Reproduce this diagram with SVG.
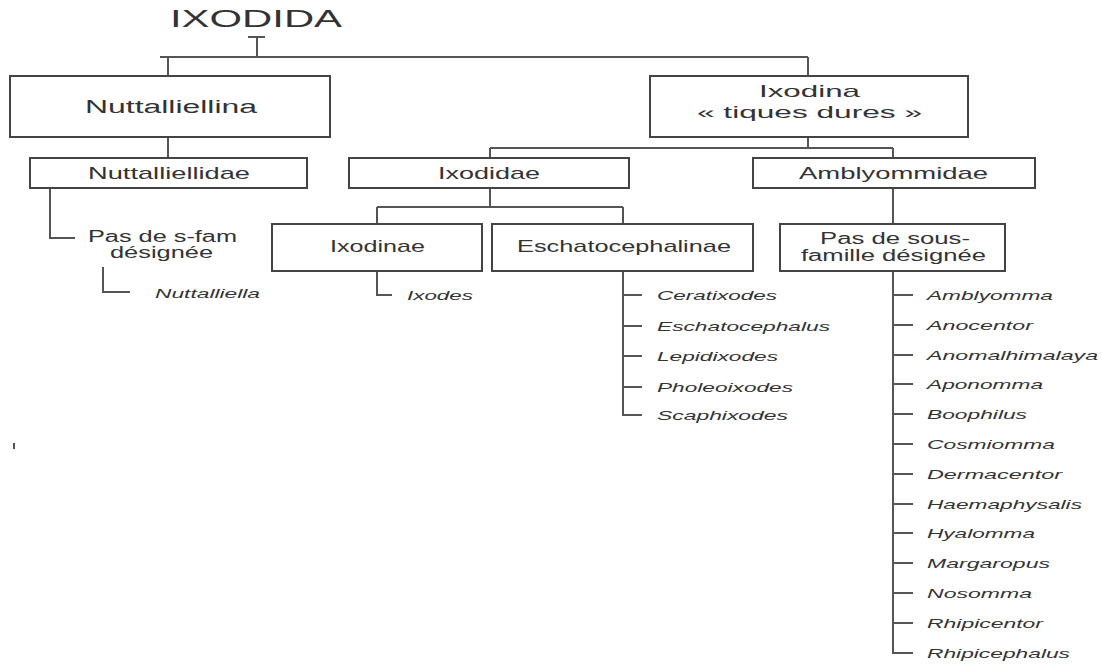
<svg xmlns="http://www.w3.org/2000/svg" width="1102" height="664" viewBox="0 0 1102 664">
<style>
.bg{fill:#ffffff}
.box{fill:#ffffff;stroke:#444;stroke-width:2}
.ln{fill:none;stroke:#555;stroke-width:2}
.t{font-family:"Liberation Sans",Arial,sans-serif;fill:#333;text-anchor:start}
.lab{font-size:17px}
.big{font-size:18px}
.title{font-size:24px}
.sp{font-size:13px;font-style:italic}
.pas{font-size:16px}
</style>
<rect class="bg" x="0" y="0" width="1102" height="664"/>
<g id="connectors">
<path class="ln" d="M248,37 H265 M257,37 V57 M160,57 H808 M168,57 V76 M808,57 V76"/>
<path class="ln" d="M168,137 V158"/>
<path class="ln" d="M50,188 V238 H75"/>
<path class="ln" d="M103,267 V292 H130"/>
<path class="ln" d="M808,137 V148 M490,148 H893 M490,148 V158 M893,148 V158"/>
<path class="ln" d="M490,188 V207 M377,207 H623 M377,207 V224 M623,207 V224"/>
<path class="ln" d="M377,271 V295 H392"/>
<path class="ln" d="M623,271 V415 H642 M623,295 H642 M623,326 H642 M623,356 H642 M623,387 H642"/>
<path class="ln" d="M893,188 V224"/>
<path class="ln" d="M893,271 V653 H913 M893,295 H913 M893,325 H913 M893,355 H913 M893,384 H913 M893,414 H913 M893,444 H913 M893,474 H913 M893,504 H913 M893,533 H913 M893,563 H913 M893,593 H913 M893,623 H913"/>
<path class="ln" d="M14,443 V449" stroke-width="1.5"/>
</g>
<g id="ixodida">
<text class="t title" x="170" y="27" textLength="172" lengthAdjust="spacingAndGlyphs">IXODIDA</text>
</g>
<g id="nuttalliellina">
<rect class="box" x="10" y="76" width="320" height="61"/>
<text class="t big" x="85" y="113" textLength="172" lengthAdjust="spacingAndGlyphs">Nuttalliellina</text>
</g>
<g id="ixodina">
<rect class="box" x="650" y="76" width="318" height="61"/>
<text class="t lab" x="759" y="97" textLength="101" lengthAdjust="spacingAndGlyphs">Ixodina</text>
<text class="t lab" x="697" y="118" textLength="225" lengthAdjust="spacingAndGlyphs">« tiques dures »</text>
</g>
<g id="nuttalliellidae">
<rect class="box" x="30" y="158" width="277" height="30"/>
<text class="t lab" x="88" y="179" textLength="162" lengthAdjust="spacingAndGlyphs">Nuttalliellidae</text>
</g>
<g id="pas-s-fam">
<text class="t pas" x="88" y="242" textLength="149" lengthAdjust="spacingAndGlyphs">Pas de s-fam</text>
<text class="t pas" x="110" y="258" textLength="103" lengthAdjust="spacingAndGlyphs">désignée</text>
</g>
<g id="nuttalliella">
<text class="t sp" x="155" y="298" textLength="105" lengthAdjust="spacingAndGlyphs">Nuttalliella</text>
</g>
<g id="ixodidae">
<rect class="box" x="349" y="158" width="280" height="30"/>
<text class="t lab" x="438" y="179" textLength="102" lengthAdjust="spacingAndGlyphs">Ixodidae</text>
</g>
<g id="amblyommidae">
<rect class="box" x="753" y="158" width="282" height="30"/>
<text class="t lab" x="799" y="179" textLength="189" lengthAdjust="spacingAndGlyphs">Amblyommidae</text>
</g>
<g id="ixodinae">
<rect class="box" x="272" y="224" width="210" height="47"/>
<text class="t lab" x="330" y="252" textLength="95" lengthAdjust="spacingAndGlyphs">Ixodinae</text>
</g>
<g id="eschatocephalinae">
<rect class="box" x="492" y="224" width="261" height="47"/>
<text class="t lab" x="517" y="252" textLength="214" lengthAdjust="spacingAndGlyphs">Eschatocephalinae</text>
</g>
<g id="pas-sous-famille">
<rect class="box" x="780" y="224" width="225" height="47"/>
<text class="t pas" x="820" y="244" textLength="150" lengthAdjust="spacingAndGlyphs">Pas de sous-</text>
<text class="t pas" x="801" y="261" textLength="185" lengthAdjust="spacingAndGlyphs">famille désignée</text>
</g>
<g id="ixodes">
<text class="t sp" x="407" y="300" textLength="66" lengthAdjust="spacingAndGlyphs">Ixodes</text>
</g>
<g id="eschato-genera">
<text class="t sp" x="657" y="300" textLength="120" lengthAdjust="spacingAndGlyphs">Ceratixodes</text>
<text class="t sp" x="657" y="331" textLength="173" lengthAdjust="spacingAndGlyphs">Eschatocephalus</text>
<text class="t sp" x="657" y="361" textLength="121" lengthAdjust="spacingAndGlyphs">Lepidixodes</text>
<text class="t sp" x="657" y="392" textLength="136" lengthAdjust="spacingAndGlyphs">Pholeoixodes</text>
<text class="t sp" x="657" y="420" textLength="131" lengthAdjust="spacingAndGlyphs">Scaphixodes</text>
</g>
<g id="ambly-genera">
<text class="t sp" x="927" y="300" textLength="126" lengthAdjust="spacingAndGlyphs">Amblyomma</text>
<text class="t sp" x="927" y="330" textLength="106" lengthAdjust="spacingAndGlyphs">Anocentor</text>
<text class="t sp" x="927" y="360" textLength="171" lengthAdjust="spacingAndGlyphs">Anomalhimalaya</text>
<text class="t sp" x="927" y="389" textLength="116" lengthAdjust="spacingAndGlyphs">Aponomma</text>
<text class="t sp" x="927" y="419" textLength="100" lengthAdjust="spacingAndGlyphs">Boophilus</text>
<text class="t sp" x="927" y="449" textLength="128" lengthAdjust="spacingAndGlyphs">Cosmiomma</text>
<text class="t sp" x="927" y="479" textLength="135" lengthAdjust="spacingAndGlyphs">Dermacentor</text>
<text class="t sp" x="927" y="509" textLength="155" lengthAdjust="spacingAndGlyphs">Haemaphysalis</text>
<text class="t sp" x="927" y="538" textLength="108" lengthAdjust="spacingAndGlyphs">Hyalomma</text>
<text class="t sp" x="927" y="568" textLength="123" lengthAdjust="spacingAndGlyphs">Margaropus</text>
<text class="t sp" x="927" y="598" textLength="105" lengthAdjust="spacingAndGlyphs">Nosomma</text>
<text class="t sp" x="927" y="628" textLength="116" lengthAdjust="spacingAndGlyphs">Rhipicentor</text>
<text class="t sp" x="927" y="658" textLength="143" lengthAdjust="spacingAndGlyphs">Rhipicephalus</text>
</g>
</svg>
